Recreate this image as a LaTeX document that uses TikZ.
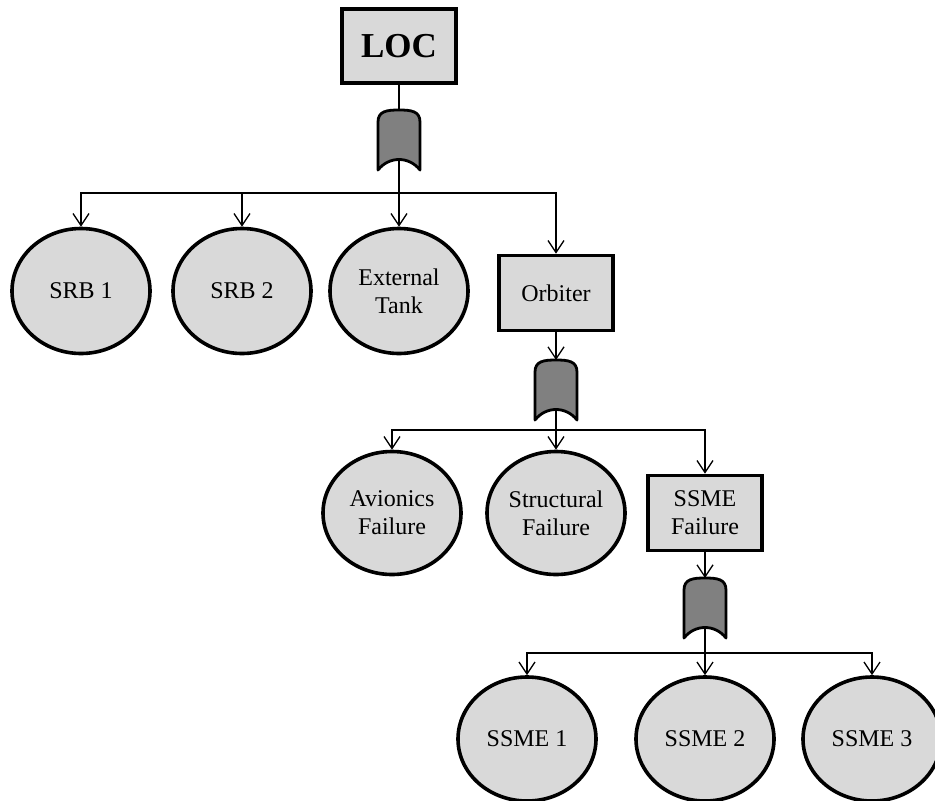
\documentclass[tikz,border=0pt]{standalone}
\usepackage{fontspec}
\setmainfont{Liberation Serif}
\usetikzlibrary{arrows.meta,shapes.geometric,positioning}

\begin{document}
\begin{tikzpicture}[x=1pt,y=-1pt,
  event/.style={ellipse,draw,line width=3.6pt,fill=black!15,minimum width=138pt,minimum height=125pt,inner sep=0pt,align=center,font=\fontsize{24}{28}\selectfont},
  gatebox/.style={rectangle,draw,line width=3.6pt,fill=black!15,minimum width=114pt,minimum height=75pt,inner sep=0pt,align=center,font=\fontsize{24}{28}\selectfont},
  link/.style={line width=1.3pt},
  arr/.style={link,-{Straight Barb[length=12pt,width=16pt]}},
  orgate/.pic={
    \draw[line width=2.8pt,fill=black!50,line join=round] (-21,30) -- (-21,-18) .. controls (-21,-29) and (-12,-30) .. (0,-30) .. controls (12,-30) and (21,-29) .. (21,-18) -- (21,30) .. controls (10,16) and (-10,16) .. cycle;
    \coordinate (-in) at (0,-30);
    \coordinate (-out) at (0,20);
  }]
\useasboundingbox (0,0) rectangle (935,801);
\node[gatebox,minimum height=74pt,font=\fontsize{35}{40}\selectfont\bfseries] (loc) at (399,46) {LOC};
\pic (g1) at (399,140) {orgate};
\coordinate (j1) at (399,193);
\node[event] (srb1) at (81,291) {SRB 1};
\node[event] (srb2) at (242,291) {SRB 2};
\node[event] (tank) at (399,291) {External\\Tank};
\node[gatebox] (orbiter) at (556,293) {Orbiter};
\draw[link] (loc) -- (g1-in);
\draw[link] (g1-out) -- (j1);
\foreach \n in {srb1,srb2,tank,orbiter} \draw[arr] (j1) -| (\n);

\pic (g2) at (556,390) {orgate};
\coordinate (j2) at (556,430);
\node[event,minimum height=123pt] (avion) at (392,513) {Avionics\\Failure};
\node[event,minimum height=123pt] (struct) at (556,513) {Structural\\Failure};
\node[gatebox] (ssmef) at (705,513) {SSME\\Failure};
\draw[arr] (orbiter) -- (g2-in);
\draw[link] (g2-out) -- (j2);
\foreach \n in {avion,struct,ssmef} \draw[arr] (j2) -| (\n);

\pic (g3) at (705,608) {orgate};
\coordinate (j3) at (705,653);
\node[event,minimum height=124pt] (ssme1) at (527,739) {SSME 1};
\node[event,minimum height=124pt] (ssme2) at (705,739) {SSME 2};
\node[event,minimum height=124pt] (ssme3) at (872,739) {SSME 3};
\draw[arr] (ssmef) -- (g3-in);
\draw[link] (g3-out) -- (j3);
\foreach \n in {ssme1,ssme2,ssme3} \draw[arr] (j3) -| (\n);
\end{tikzpicture}
\end{document}
